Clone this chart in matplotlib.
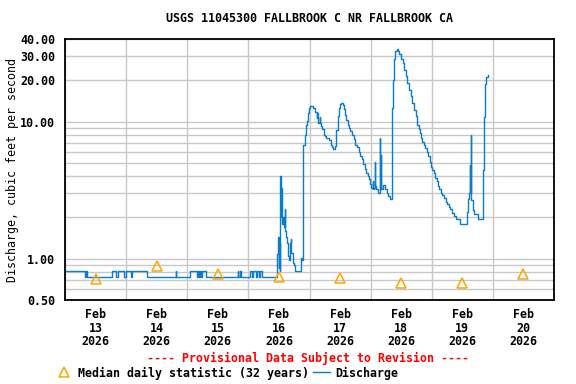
import numpy as np
import pandas as pd
import matplotlib
matplotlib.use("Agg")
import matplotlib.pyplot as plt
import matplotlib.dates as mdates
from matplotlib.lines import Line2D
from matplotlib.ticker import FixedLocator, NullFormatter

# -------------------------------
# DATA (hours since 2026-02-13 00:00, discharge in cfs)
# -------------------------------
START = pd.Timestamp("2026-02-13 00:00")

base_hours = [0.0, 7.9, 8.4, 8.7, 18.6, 20.2, 20.7, 23.2, 23.9, 25.8, 26.4, 32.0,
              43.5, 43.7, 49.0, 52.0, 52.3, 52.7, 53.0, 53.5, 53.8, 55.3,
              67.8, 68.1, 68.6, 69.0, 72.7, 73.5, 73.9, 74.9, 75.3, 76.0, 76.4, 77.4]
base_flow = [0.81, 0.74, 0.81, 0.74, 0.81, 0.74, 0.81, 0.74, 0.81, 0.74, 0.81, 0.74,
             0.81, 0.74, 0.81, 0.74, 0.81, 0.74, 0.81, 0.74, 0.81, 0.74,
             0.81, 0.74, 0.81, 0.74, 0.81, 0.74, 0.81, 0.74, 0.81, 0.74, 0.81, 0.74]

event_hours = [83.3, 83.5, 83.9, 84.2, 84.5, 84.6, 84.8, 84.9, 85.1, 85.3, 85.6, 85.8,
               86.1, 86.3, 86.4, 86.8, 87.1, 87.5, 87.9, 88.2, 88.4, 88.7, 88.8, 89.4,
               90.0, 90.5, 92.6, 92.9, 93.3, 93.6, 94.2, 94.7, 95.1, 95.5, 95.8, 96.1,
               97.4, 98.2, 98.8, 99.1, 99.4, 100.1, 100.3, 100.6, 101.0, 101.5, 102.0,
               102.6, 103.5, 104.3, 104.8, 105.4, 106.0, 106.4, 107.0, 107.5, 108.0,
               108.5, 109.0, 109.4, 109.9, 110.4, 111.0, 111.6, 112.0, 112.6, 113.3,
               114.0, 114.5, 115.3, 115.9, 116.6, 117.2, 117.8, 118.3, 118.8, 119.3,
               119.7, 120.3, 120.9, 121.0, 121.2, 121.8, 121.9, 122.1, 122.8, 123.7,
               123.8, 123.9, 124.1, 124.7, 125.6, 126.3, 126.9, 127.6, 128.5, 128.8,
               129.3, 129.7, 130.2, 130.8, 131.3, 131.9, 132.6, 133.1, 133.8, 134.4,
               135.1, 135.7, 136.4, 137.1, 137.7, 138.1, 138.4, 139.0, 139.4, 139.9,
               140.3, 140.8, 141.4, 142.0, 142.7, 143.2, 143.6, 144.2, 144.7, 145.4,
               146.0, 146.5, 147.0, 147.6, 148.1, 148.8, 149.4, 150.0, 150.7, 151.3,
               152.0, 152.8, 153.6, 155.2, 158.0, 158.4, 158.7, 158.9, 159.1, 159.5,
               159.6, 160.0, 160.5, 162.2, 164.3, 164.6, 165.0, 165.4, 165.9]
event_flow = [1.09, 1.45, 0.85, 1.3, 0.82, 4.0, 2.0, 3.3, 1.9, 1.8, 2.0, 1.9,
              1.7, 2.3, 1.6, 1.45, 1.3, 1.04, 0.98, 1.2, 1.3, 1.4, 1.1, 0.93,
              0.90, 0.82, 1.02, 0.98, 1.83, 6.8, 8.0, 9.5, 10.1, 11.6, 12.5, 12.9,
              12.5, 11.8, 10.7, 11.5, 9.75, 10.8, 9.7, 9.3, 8.9, 8.0, 7.8,
              7.6, 7.4, 6.8, 6.5, 6.3, 6.6, 8.7, 10.9, 12.6, 13.5,
              13.7, 13.2, 12.3, 11.2, 10.3, 9.4, 9.0, 8.6, 8.0, 7.5,
              6.8, 6.5, 6.0, 5.6, 5.3, 4.9, 4.5, 4.2, 4.0, 3.8,
              3.5, 3.3, 3.7, 3.2, 3.3, 5.05, 3.4, 3.2, 3.0, 7.6,
              3.2, 5.7, 3.2, 3.47, 3.2, 3.0, 2.88, 2.73, 12.6, 20.1,
              28.4, 32.7, 33.8, 32.7, 31.0, 28.4, 26.7, 23.8, 21.4, 19.1,
              17.1, 15.3, 13.7, 12.2, 10.9, 10.0, 9.5, 8.9, 8.3, 7.6,
              7.1, 6.7, 6.4, 6.0, 5.6, 5.1, 4.7, 4.4, 4.2, 3.9,
              3.7, 3.4, 3.2, 3.0, 2.9, 2.75, 2.6, 2.5, 2.4, 2.3,
              2.15, 2.05, 1.96, 1.80, 2.2, 2.73, 3.0, 4.86, 3.0, 8.0,
              2.7, 2.28, 2.13, 1.95, 4.4, 10.8, 18.8, 21.0, 21.8]

median_days = ["2026-02-13 12:00", "2026-02-14 12:00", "2026-02-15 12:00", "2026-02-16 12:00",
               "2026-02-17 12:00", "2026-02-18 12:00", "2026-02-19 12:00", "2026-02-20 12:00"]
median_flow = [0.71, 0.88, 0.77, 0.74, 0.72, 0.67, 0.67, 0.78]

y_ticks = [0.5, 1.0, 10.0, 20.0, 30.0, 40.0]
y_grid = [0.6, 0.7, 0.8, 0.9, 2, 3, 4, 5, 6, 7, 8, 9]

# -------------------------------
# PLOT
# -------------------------------
plt.rcParams["font.family"] = "DejaVu Sans Mono"
plt.rcParams["font.weight"] = "bold"
plt.rcParams["font.size"] = 8.4

BLUE = "#0a7ccb"
ORANGE = "#ffa500"

times = START + pd.to_timedelta(base_hours + event_hours, unit="h")
flow = base_flow + event_flow

fig = plt.figure(figsize=(5.76, 3.84), dpi=100)
ax = fig.add_axes([65 / 576, 84 / 384, 489 / 576, 261 / 384])

ax.plot(times, flow, color=BLUE, lw=1.0, drawstyle="steps-post")
ax.plot(pd.to_datetime(median_days), median_flow, ls="none", marker="^",
        ms=7, mfc="none", mec=ORANGE, mew=1.1)

ax.set_yscale("log")
ax.set_ylim(0.5, 40)
ax.yaxis.set_major_locator(FixedLocator(y_ticks))
ax.set_yticklabels([f"{v:.2f}" for v in y_ticks])
ax.yaxis.set_minor_locator(FixedLocator(y_grid))
ax.yaxis.set_minor_formatter(NullFormatter())

ax.set_xlim(START, START + pd.Timedelta(days=8))
ax.xaxis.set_major_locator(mdates.HourLocator(byhour=12))
ax.xaxis.set_major_formatter(mdates.DateFormatter("%b\n%d\n%Y"))
ax.xaxis.set_minor_locator(mdates.DayLocator())
for lab in ax.get_xticklabels():
    lab.set_linespacing(1.05)

ax.tick_params(axis="both", which="both", length=0)
ax.tick_params(axis="x", pad=6)
ax.tick_params(axis="y", pad=7)
ax.grid(True, which="minor", color="#c8c8c8", lw=1)
ax.grid(True, which="major", axis="y", color="#c8c8c8", lw=1)
for s in ax.spines.values():
    s.set_linewidth(1.3)

ax.set_ylabel("Discharge, cubic feet per second", labelpad=1)
fig.text(309 / 576, 1 - 19 / 384, "USGS 11045300 FALLBROOK C NR FALLBROOK CA",
         ha="center", va="center")
fig.text(308 / 576, 1 - 358 / 384, "---- Provisional Data Subject to Revision ----",
         ha="center", va="center", color="red")

handles = [Line2D([], [], ls="none", marker="^", ms=7, mfc="none", mec=ORANGE, mew=1.1),
           Line2D([], [], color=BLUE, lw=1.0)]
fig.legend(handles, ["Median daily statistic (32 years)", "Discharge"],
           loc="center", bbox_to_anchor=(227 / 576, 1 - 373 / 384), ncol=2,
           frameon=False, handlelength=1.4, handletextpad=0.5, columnspacing=0.4,
           borderpad=0, borderaxespad=0)

plt.savefig("out.png", dpi=100)
